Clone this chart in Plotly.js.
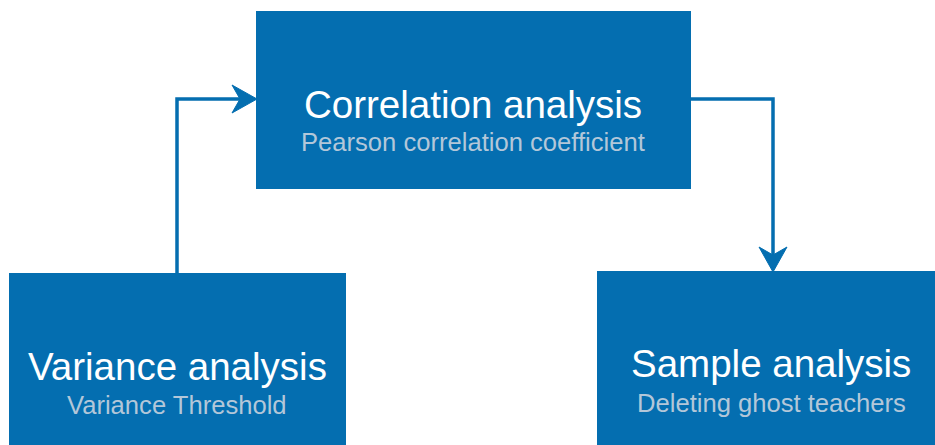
<!DOCTYPE html>
<html>
<head>
<meta charset="utf-8">
<script src="https://cdn.plot.ly/plotly-3.0.1.min.js"></script>
<style>html,body{margin:0;padding:0;background:#fff;}#chart{width:935px;height:445px;}</style>
</head>
<body>
<div id="chart"></div>
<script>
// Content of the flowchart
const stepTitles = ["Correlation analysis", "Variance analysis", "Sample analysis"];
const stepMethods = ["Pearson correlation coefficient", "Variance Threshold", "Deleting ghost teachers"];
// Connections: from step index -> to step index
const linkFrom = [1, 0];
const linkTo = [0, 2];

// Layout geometry (pixel space, y downward)
const boxes = [
  {x0: 256, x1: 691, y0: 11, y1: 189, cx: 473, ty: 104, sy: 142},
  {x0: 9,   x1: 346, y0: 273, y1: 445, cx: 177, ty: 366, sy: 405},
  {x0: 597, x1: 935, y0: 271, y1: 445, cx: 771, ty: 363, sy: 403}
];
const boxColor = "#046eb0";
const subColor = "#b3c7d9";
const lineW = 3.5;
const fontFam = "'Liberation Sans', Arial, sans-serif";

const shapes = [];
const annotations = [];
boxes.forEach((b, i) => {
  shapes.push({type: "rect", xref: "x", yref: "y", x0: b.x0, x1: b.x1, y0: b.y0, y1: b.y1,
    fillcolor: boxColor, line: {width: 0}, layer: "below"});
  annotations.push({x: b.cx, y: b.ty, xref: "x", yref: "y", text: stepTitles[i], showarrow: false,
    xanchor: "center", yanchor: "middle", font: {family: fontFam, size: 38.5, color: "#ffffff"}});
  annotations.push({x: b.cx, y: b.sy, xref: "x", yref: "y", text: stepMethods[i], showarrow: false,
    xanchor: "center", yanchor: "middle", font: {family: fontFam, size: 25.6, color: subColor}});
});

// Connector 1: from top of Variance box up, then right into Correlation box
(function(){
  const a = boxes[linkFrom[0]], b = boxes[linkTo[0]];
  const x = 177, y = 99;
  shapes.push({type: "path", path: `M ${x} ${a.y0} L ${x} ${y} L ${b.x0 - 12} ${y}`,
    line: {color: boxColor, width: lineW}});
  const t = b.x0 + 1;
  shapes.push({type: "path", path: `M ${t} ${y} L ${t - 25} ${y - 14} L ${t - 17} ${y} L ${t - 25} ${y + 14} Z`,
    fillcolor: boxColor, line: {color: boxColor, width: 1}});
})();
// Connector 2: from right of Correlation box, right then down into Sample box
(function(){
  const a = boxes[linkFrom[1]], b = boxes[linkTo[1]];
  const x = 773, y = 99;
  shapes.push({type: "path", path: `M ${a.x1} ${y} L ${x} ${y} L ${x} ${b.y0 - 12}`,
    line: {color: boxColor, width: lineW}});
  const t = b.y0 + 1;
  shapes.push({type: "path", path: `M ${x} ${t} L ${x - 14} ${t - 25} L ${x} ${t - 17} L ${x + 14} ${t - 25} Z`,
    fillcolor: boxColor, line: {color: boxColor, width: 1}});
})();

const layout = {
  width: 935, height: 445,
  margin: {l: 0, r: 0, t: 0, b: 0},
  paper_bgcolor: "#ffffff", plot_bgcolor: "#ffffff",
  font: {family: fontFam},
  xaxis: {range: [0, 935], visible: false, fixedrange: true},
  yaxis: {range: [445, 0], visible: false, fixedrange: true},
  showlegend: false,
  shapes: shapes,
  annotations: annotations
};
Plotly.newPlot("chart", [], layout, {displayModeBar: false, staticPlot: true});
</script>
</body>
</html>
